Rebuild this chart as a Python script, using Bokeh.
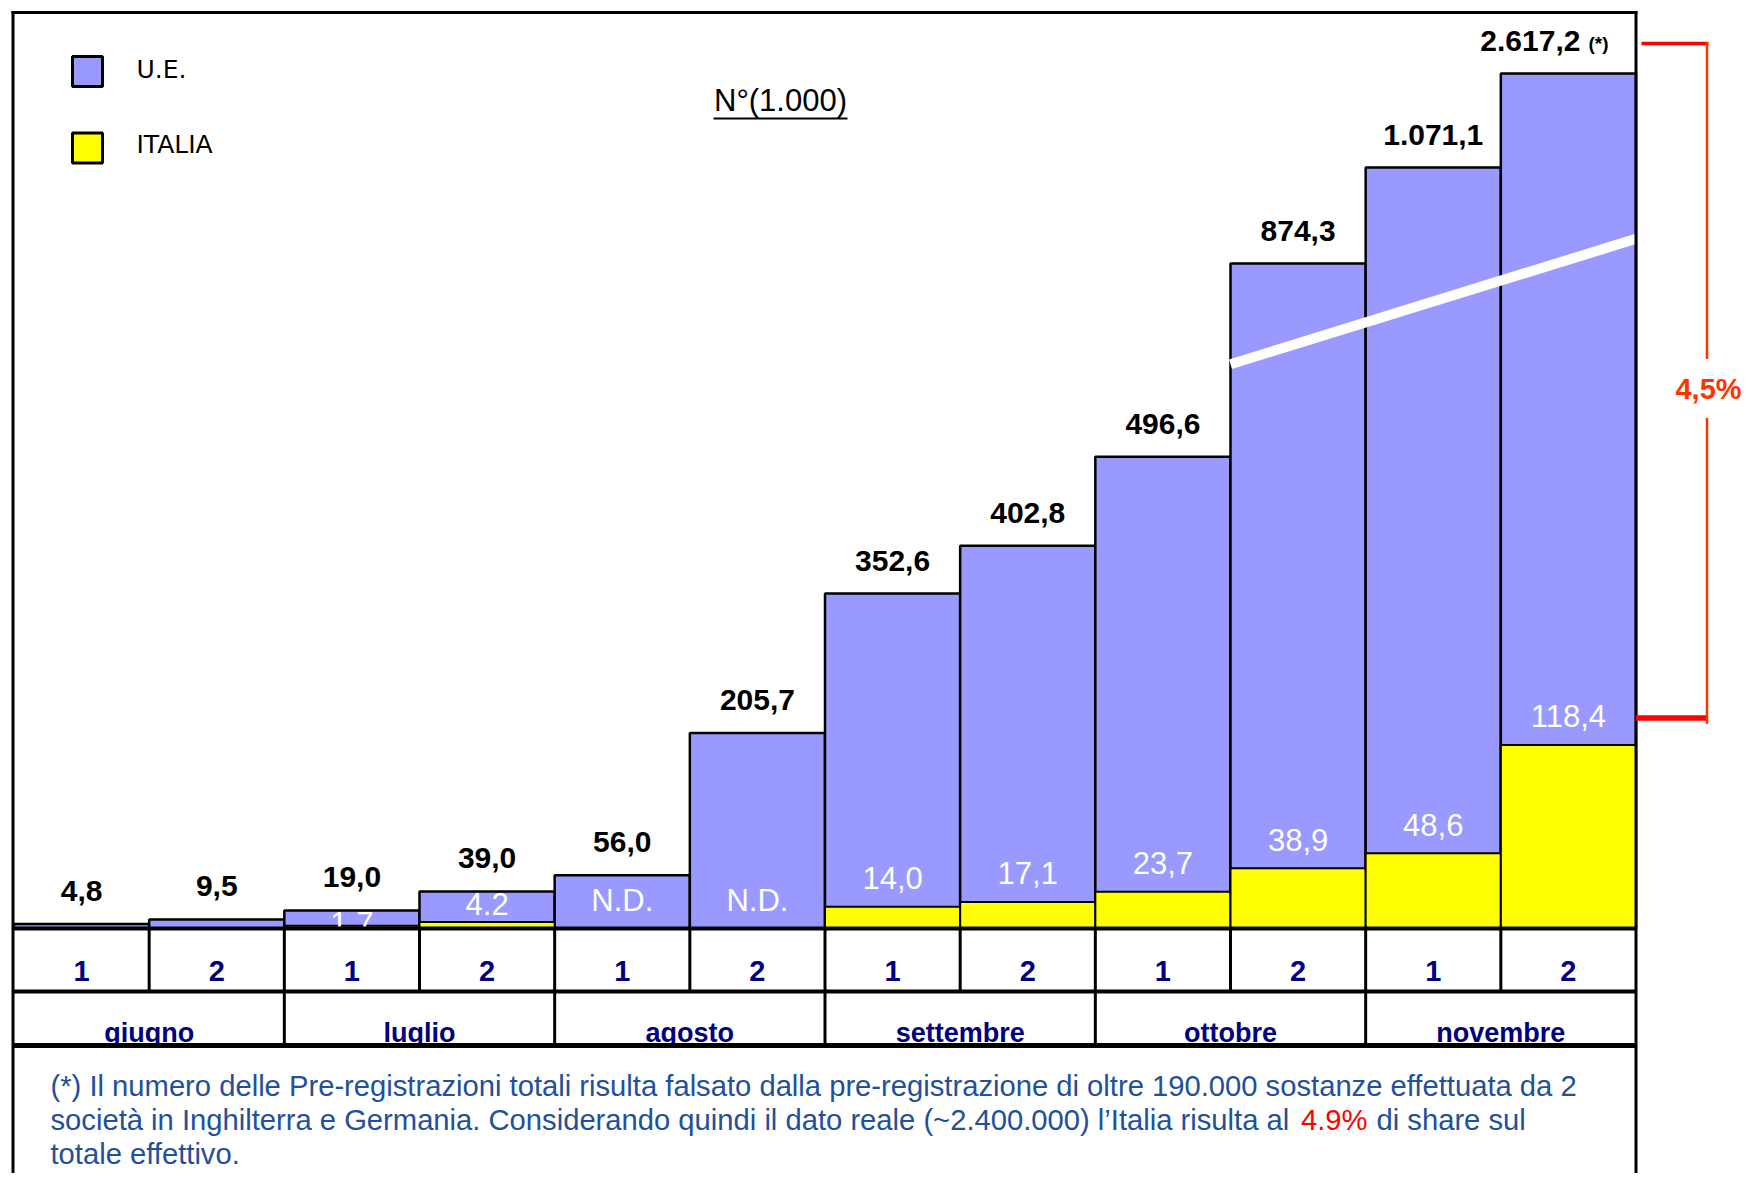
import numpy as np
from bokeh.plotting import figure
from bokeh.models import Range1d, ColumnDataSource
from bokeh.core.properties import value
from bokeh.embed import file_html
from bokeh.resources import INLINE

# ---------------- data ----------------
MONTHS = ["giugno", "luglio", "agosto", "settembre", "ottobre", "novembre"]
HALVES = ["1", "2", "1", "2", "1", "2", "1", "2", "1", "2", "1", "2"]
UE = [4.8, 9.5, 19.0, 39.0, 56.0, 205.7, 352.6, 402.8, 496.6, 874.3, 1071.1, 2617.2]
ITALIA = [np.nan, np.nan, 1.7, 4.2, np.nan, np.nan, 14.0, 17.1, 23.7, 38.9, 48.6, 118.4]
IT_LABELS = ["", "", "1.7", "4.2", "N.D.", "N.D.", "14,0", "17,1", "23,7", "38,9", "48,6", "118,4"]
UE_NOTE = ["", "", "", "", "", "", "", "", "", "", "", "(*)"]
SERIES = ["U.E.", "ITALIA"]
UNIT_LABEL = "N°(1.000)"
SHARE_LABEL = "4,5%"
FOOTNOTE_1 = ("(*) Il numero delle Pre-registrazioni totali risulta falsato dalla "
              "pre-registrazione di oltre 190.000 sostanze effettuata da 2")
FOOTNOTE_2A = ("società in Inghilterra e Germania. Considerando quindi il dato reale "
               "(~2.400.000) l’Italia risulta al")
FOOTNOTE_2B = "4.9%"
FOOTNOTE_2C = "di share sul"
FOOTNOTE_3 = "totale effettivo."

# broken value axis: linear below the break, compressed above it
BREAK_VALUES = [0, 600, 874.3, 1071.1, 2617.2]
BREAK_SCALE = [0, 600, 700, 801, 900]
BREAK_LINE = [594, 726]          # break marker (scale units) across bars 10..12
BREAK_BARS = [9, 11]

# ---------------- geometry ----------------
W, H = 1742, 1173
BASE = 928                        # baseline (px from top)
LEFT, RIGHT = 13.5, 1635.5
STEP = (RIGHT - LEFT) / 12
UE_PX = 0.95                      # px per 1000 (U.E.)
IT_PX = 1.55                      # px per 1000 (Italia)

FONT = value("Liberation Sans")
NAVY = "#000080"
BLUE = "#22509A"

x0 = -0.5 - LEFT / STEP
p = figure(width=W, height=H, output_backend="svg", toolbar_location=None,
           title=None, x_axis_location=None, y_axis_location=None, min_border=0,
           x_range=Range1d(x0, x0 + W / STEP),
           y_range=Range1d(-(H - BASE) / UE_PX, BASE / UE_PX))
p.extra_x_ranges = {"px": Range1d(0, W)}
p.extra_y_ranges = {"it": Range1d(-(H - BASE) / IT_PX, BASE / IT_PX),
                    "px": Range1d(H, 0)}
p.xgrid.visible = False
p.ygrid.visible = False
p.outline_line_color = None
p.background_fill_color = "white"
p.border_fill_color = "white"

idx = np.arange(len(UE))
ue_disp = np.interp(UE, BREAK_VALUES, BREAK_SCALE)
it_vals = np.array(ITALIA, dtype=float)

src = ColumnDataSource(dict(x=idx, ue=ue_disp, it=it_vals))
p.vbar(x="x", top="ue", bottom=0, width=1, source=src,
       fill_color="#9999FF", line_color="black", line_width=2.5)
p.vbar(x="x", top="it", bottom=0, width=1, source=src, y_range_name="it",
       fill_color="#FFFF00", line_color="black", line_width=2)

# axis break marker
p.line(x=[BREAK_BARS[0] - 0.5, BREAK_BARS[1] + 0.5], y=BREAK_LINE,
       line_color="white", line_width=10)

# Italia labels (white, inside the bars) - y is the text centre
ue_px = ue_disp * UE_PX
it_px = np.nan_to_num(it_vals) * IT_PX
it_lab_px = np.minimum(it_px + 28.5, ue_px - 13)
p.text(x=idx, y=it_lab_px / UE_PX, text=IT_LABELS, text_font=FONT,
       text_font_size="31px", text_color="white", text_align="center",
       text_baseline="middle")


def fmt_it(v):
    s = f"{v:,.1f}"
    return s.replace(",", "#").replace(".", ",").replace("#", ".")


ue_labels = [fmt_it(v) for v in UE]
ue_lab_y = ue_disp + 33 / UE_PX
plain = [i for i, n in enumerate(UE_NOTE) if not n]
noted = [i for i, n in enumerate(UE_NOTE) if n]
p.text(x=idx[plain], y=ue_lab_y[plain], text=[ue_labels[i] for i in plain],
       text_font=FONT, text_font_size="30px", text_font_style="bold",
       text_color="black", text_align="center", text_baseline="middle")
p.text(x=idx[noted], y=ue_lab_y[noted], text=[ue_labels[i] for i in noted],
       x_offset=12, text_font=FONT, text_font_size="30px", text_font_style="bold",
       text_color="black", text_align="right", text_baseline="middle")
p.text(x=idx[noted], y=ue_lab_y[noted], text=[UE_NOTE[i] for i in noted],
       x_offset=20, y_offset=3, text_font=FONT, text_font_size="19px",
       text_font_style="bold", text_color="black", text_align="left",
       text_baseline="middle")

# category table texts
p.text(x=idx, y=[970] * len(idx), y_range_name="px", text=HALVES,
       text_font=FONT, text_font_size="29px", text_font_style="bold",
       text_color=NAVY, text_align="center", text_baseline="middle")
mx = np.arange(len(MONTHS)) * 2 + 0.5
p.text(x=mx, y=[1032] * len(MONTHS), y_range_name="px", text=MONTHS,
       text_font=FONT, text_font_size="27px", text_font_style="bold",
       text_color=NAVY, text_align="center", text_baseline="middle")

# table lines
p.segment(x0=[LEFT - 1.5] * 3, x1=[RIGHT + 1] * 3, y0=[928, 991, 1045], y1=[928, 991, 1045],
          x_range_name="px", y_range_name="px", line_color="black", line_width=[4, 4, 5])
hx = idx[:-1] + 0.5
p.segment(x0=hx, x1=hx, y0=[928] * len(hx), y1=[991] * len(hx), y_range_name="px",
          line_color="black", line_width=3)
gx = np.arange(len(MONTHS) - 1) * 2 + 1.5
p.segment(x0=gx, x1=gx, y0=[991] * len(gx), y1=[1045] * len(gx), y_range_name="px",
          line_color="black", line_width=3)

# outer frame
p.segment(x0=[11, 12.5, RIGHT], x1=[RIGHT + 1.5, 12.5, RIGHT], y0=[12, 11, 11],
          y1=[12, 1200, 1200], x_range_name="px", y_range_name="px",
          line_color="black", line_width=3)

# legend
p.rect(x=[87, 87], y=[71, 147.5], width=30, height=30, x_range_name="px",
       y_range_name="px", fill_color=["#9999FF", "#FFFF00"], line_color="black",
       line_width=3)
p.text(x=[136, 136], y=[69, 144], text=SERIES, x_range_name="px", y_range_name="px",
       text_font=value("DejaVu Sans"), text_font_size="25px", text_color="black",
       text_align="left", text_baseline="middle")

# unit label (underlined)
p.text(x=[780], y=[100], text=[UNIT_LABEL], x_range_name="px", y_range_name="px",
       text_font=FONT, text_font_size="31px", text_color="black",
       text_align="center", text_baseline="middle")
p.segment(x0=[713], x1=[847], y0=[118], y1=[118], x_range_name="px",
          y_range_name="px", line_color="black", line_width=2)

# share bracket (from the U.E. total label to the Italia label)
top_y = BASE - ue_lab_y[-1] * UE_PX + 3
bot_y = BASE - it_lab_px[-1] + 1.5
SHARE_Y = 388.5
p.segment(x0=[1641, RIGHT], x1=[1708, 1706], y0=[top_y, bot_y], y1=[top_y, bot_y],
          x_range_name="px", y_range_name="px", line_color="#FF0000",
          line_width=[3.5, 5.5])
p.segment(x0=[1706.5, 1706.5], x1=[1706.5, 1706.5], y0=[top_y - 1.5, SHARE_Y + 29],
          y1=[SHARE_Y - 30, bot_y + 6], x_range_name="px", y_range_name="px",
          line_color="#FF3300", line_width=2.5)
p.text(x=[1708], y=[SHARE_Y], text=[SHARE_LABEL], x_range_name="px", y_range_name="px",
       text_font=FONT, text_font_size="29px", text_font_style="bold",
       text_color="#FF3300", text_align="center", text_baseline="middle")

# footnote
FS = "29.2px"
p.text(x=[50, 50, 50], y=[1085, 1119, 1153], text=[FOOTNOTE_1, FOOTNOTE_2A, FOOTNOTE_3],
       x_range_name="px", y_range_name="px", text_font=FONT, text_font_size=FS,
       text_color=BLUE, text_align="left", text_baseline="middle")
p.text(x=[1300.5], y=[1119], text=[FOOTNOTE_2B], x_range_name="px", y_range_name="px",
       text_font=FONT, text_font_size=FS, text_color="#FF0000",
       text_align="left", text_baseline="middle")
p.text(x=[1376], y=[1119], text=[FOOTNOTE_2C], x_range_name="px", y_range_name="px",
       text_font=FONT, text_font_size=FS, text_color=BLUE,
       text_align="left", text_baseline="middle")

open("out.html", "w").write(file_html(p, INLINE))
